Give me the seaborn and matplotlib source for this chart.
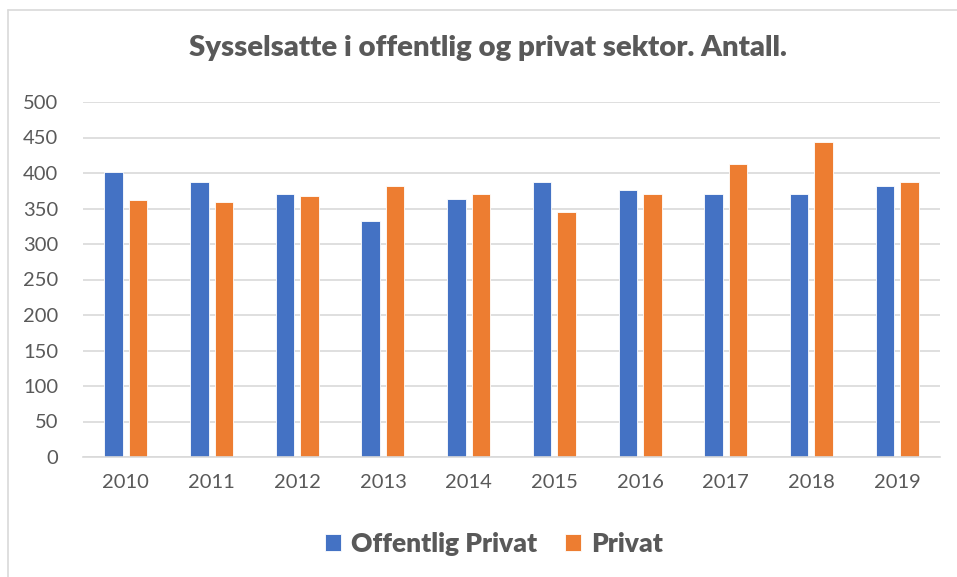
import matplotlib
matplotlib.use("Agg")
import matplotlib.pyplot as plt
import seaborn as sns
import pandas as pd
from matplotlib.lines import Line2D

years = ["2010", "2011", "2012", "2013", "2014", "2015", "2016", "2017", "2018", "2019"]
offentlig = [401, 387, 370, 333, 364, 387, 376, 370, 370, 381]
privat = [362, 359, 367, 381, 370, 345, 370, 412, 443, 387]
series_names = ["Offentlig Privat", "Privat"]
title = "Sysselsatte i offentlig og privat sektor. Antall."
yticks = [0, 50, 100, 150, 200, 250, 300, 350, 400, 450, 500]

df = pd.DataFrame({
    "År": years * 2,
    "Antall": offentlig + privat,
    "Serie": [series_names[0]] * len(years) + [series_names[1]] * len(years),
})

sns.set_theme(style="white")
plt.rcParams["font.family"] = ["Lato", "DejaVu Sans"]
text_color = "#595959"

fig = plt.figure(figsize=(9.57, 5.77), dpi=100)
ax = fig.add_axes([83 / 957, 1 - 457 / 577, (940 - 83) / 957, (457 - 102) / 577])

sns.barplot(data=df, x="År", y="Antall", hue="Serie", order=years,
            hue_order=series_names, palette=["#4472C4", "#ED7D31"],
            saturation=1, width=0.572, gap=0.245, edgecolor="white",
            linewidth=0.6, ax=ax, legend=True)

ax.set_ylim(0, 500)
ax.set_yticks(yticks)
ax.set_xlim(-0.5, len(years) - 0.5)
ax.yaxis.grid(True, color="#D9D9D9", linewidth=1.2)
ax.set_axisbelow(True)
for s in ["top", "right", "left"]:
    ax.spines[s].set_visible(False)
ax.spines["bottom"].set_color("#D9D9D9")
ax.spines["bottom"].set_linewidth(1.2)
ax.set_xlabel("")
ax.set_ylabel("")
ax.tick_params(axis="both", length=0, labelsize=14.5, labelcolor=text_color)
ax.tick_params(axis="y", pad=18)
ax.tick_params(axis="x", pad=12)

fig.text(488 / 957, 1 - 48 / 577, title, ha="center", va="center",
         fontsize=21.2, fontweight="heavy", color=text_color)

leg = ax.legend(loc="center", bbox_to_anchor=(494 / 957, 1 - 544 / 577),
                bbox_transform=fig.transFigure, ncol=2, frameon=False,
                fontsize=19, handlelength=0.6, handleheight=0.6,
                handletextpad=0.4, columnspacing=1.05)
for t in leg.get_texts():
    t.set_color(text_color)
    t.set_fontweight("heavy")

fig.add_artist(Line2D([8 / 957, 1], [1 - 10 / 577, 1 - 10 / 577],
                      transform=fig.transFigure, color="#D9D9D9", linewidth=1.2))
fig.add_artist(Line2D([8 / 957, 8 / 957], [0, 1 - 10 / 577],
                      transform=fig.transFigure, color="#D9D9D9", linewidth=1.2))

fig.savefig("out.png", dpi=100)
